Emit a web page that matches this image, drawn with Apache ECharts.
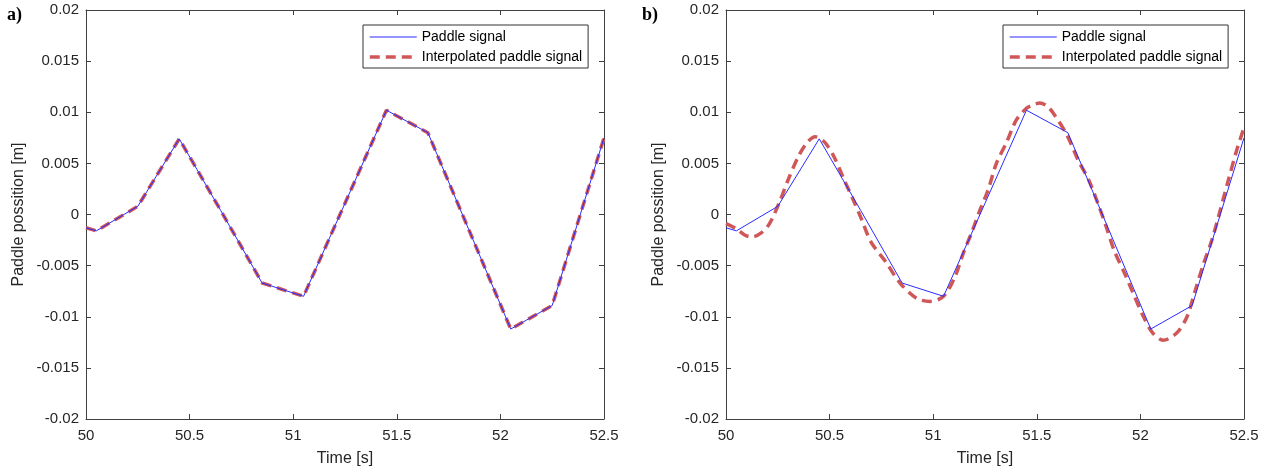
<!DOCTYPE html>
<html>
	<head>
		<meta charset="utf-8" />
		<title>Paddle signal</title>
		<style>
			html, body { margin: 0; padding: 0; background: #fff; }
			#chart { width: 1270px; height: 473px; }
		</style>
	</head>
	<body>
		<div id="chart"></div>
	</body>
	<script src="https://cdn.jsdelivr.net/npm/echarts@6/dist/echarts.min.js" type="text/javascript" charset="utf-8"></script>
	<script type="text/javascript">
		// paddle signal samples (time [s], position [m])
		var tSignal = [50, 50.05, 50.25, 50.45, 50.65, 50.85, 51.05, 51.25, 51.45, 51.65, 51.85, 52.05, 52.25, 52.5];
		var signal = [-0.0013, -0.0016, 0.0008, 0.0074, 0.0004, -0.0067, -0.0080, 0.0011, 0.0102, 0.0080, -0.0016, -0.0112, -0.0089, 0.0075];

		// a) linear interpolation - lies on top of the signal
		var tInterpA = [50, 50.05, 50.25, 50.45, 50.65, 50.85, 51.05, 51.25, 51.45, 51.65, 51.85, 52.05, 52.25, 52.5];
		var interpA = [-0.0013, -0.0016, 0.0008, 0.0074, 0.0004, -0.0067, -0.0080, 0.0011, 0.0102, 0.0080, -0.0016, -0.0112, -0.0089, 0.0075];

		// b) smooth interpolation
		var tInterpB = [50, 50.05, 50.09, 50.125, 50.17, 50.21, 50.26, 50.3, 50.35, 50.39, 50.43, 50.475, 50.52, 50.57, 50.615, 50.655, 50.7, 50.77, 50.84, 50.92, 50.985,
			51.05, 51.105, 51.145, 51.185, 51.225, 51.265, 51.305, 51.355, 51.4, 51.45, 51.48, 51.515, 51.55, 51.58, 51.645, 51.7, 51.75, 51.8, 51.835, 51.875, 51.925, 51.965,
			52.015, 52.06, 52.11, 52.175, 52.225, 52.265, 52.305, 52.345, 52.385, 52.425, 52.465, 52.5];
		var interpB = [-0.0009, -0.0014, -0.0020, -0.0022, -0.0018, -0.0009, 0.0013, 0.0034, 0.0057, 0.0070, 0.0076, 0.0071, 0.0057, 0.0034, 0.0014, -0.0005, -0.0027, -0.0046, -0.0067, -0.0082, -0.0085,
			-0.0080, -0.0061, -0.0038, -0.0018, 0.0004, 0.0024, 0.0050, 0.0071, 0.0092, 0.0104, 0.0107, 0.0109, 0.0106, 0.0099, 0.0078, 0.0053, 0.0034, 0.0008, -0.0012, -0.0036, -0.0058, -0.0077,
			-0.0100, -0.0116, -0.0123, -0.0116, -0.0100, -0.0074, -0.0048, -0.0025, 0.0004, 0.0034, 0.0063, 0.0085];

		var xTicks = [50, 50.5, 51, 51.5, 52, 52.5];
		var yTicks = [-0.02, -0.015, -0.01, -0.005, 0, 0.005, 0.01, 0.015, 0.02];

		function pairs(t, v){
			var out = [];
			for (var i = 0; i < t.length; i++) {
				out.push([t[i], v[i]]);
			}
			return out;
		}

		var font = "'Liberation Sans', Arial, sans-serif";
		var axisCol = '#404040';
		var textCol = '#262626';
		var blue = '#2a2aff';
		var red = '#cf5757';

		function xAx(grid, top){
			return {
				type: 'value', gridIndex: grid, position: top ? 'top' : 'bottom',
				min: xTicks[0], max: xTicks[xTicks.length - 1], interval: 0.5,
				name: top ? '' : 'Time [s]', nameLocation: 'middle', nameGap: 32,
				nameTextStyle: { fontFamily: font, fontSize: 16, color: textCol },
				axisLine: { show: true, onZero: false, lineStyle: { color: axisCol, width: 1 } },
				axisTick: { show: true, inside: true, length: 5, lineStyle: { color: axisCol } },
				axisLabel: { show: !top, margin: 9, fontFamily: font, fontSize: 15, color: textCol,
					formatter: function(v){ return String(parseFloat(v.toFixed(1))); } },
				splitLine: { show: false }
			};
		}
		function yAx(grid, right){
			return {
				type: 'value', gridIndex: grid, position: right ? 'right' : 'left',
				min: yTicks[0], max: yTicks[yTicks.length - 1], interval: 0.005,
				name: right ? '' : 'Paddle possition [m]', nameLocation: 'middle', nameGap: 59,
				nameTextStyle: { fontFamily: font, fontSize: 16, color: textCol },
				axisLine: { show: true, onZero: false, lineStyle: { color: axisCol, width: 1 } },
				axisTick: { show: true, inside: true, length: 5, lineStyle: { color: axisCol } },
				axisLabel: { show: !right, margin: 7, fontFamily: font, fontSize: 15, color: textCol,
					formatter: function(v){ return String(parseFloat(v.toFixed(3))); } },
				splitLine: { show: false }
			};
		}
		function legend(left){
			return {
				orient: 'vertical', left: left, top: 25,
				itemWidth: 47, itemHeight: 14, itemGap: 6,
				padding: [5, 6, 4, 5],
				backgroundColor: '#fff', borderColor: '#333', borderWidth: 1, borderRadius: 0,
				textStyle: { fontFamily: font, fontSize: 14, color: '#000' },
				itemStyle: { color: 'rgba(0,0,0,0)', borderWidth: 0 },
				data: [
					{ name: 'Paddle signal', lineStyle: { color: blue, width: 1 } },
					{ name: 'Interpolated paddle signal', lineStyle: { color: red, width: 3.5, type: [10, 6] } }
				]
			};
		}
		function sigSeries(x, y){
			return {
				name: 'Paddle signal', type: 'line', xAxisIndex: x, yAxisIndex: y,
				data: pairs(tSignal, signal), symbol: 'none', z: 3,
				lineStyle: { color: blue, width: 1 }, itemStyle: { color: blue }
			};
		}
		function intSeries(x, y, t, v, smooth){
			return {
				name: 'Interpolated paddle signal', type: 'line', xAxisIndex: x, yAxisIndex: y,
				data: pairs(t, v), symbol: 'none', smooth: smooth, z: 2,
				lineStyle: { color: red, width: 3.5, type: [10, 6] }, itemStyle: { color: red }
			};
		}

		var myChart = echarts.init(document.getElementById('chart'));
		var option = {
			animation: false,
			grid: [
				{ left: 86, right: 666, top: 10, bottom: 54 },
				{ left: 726, right: 26, top: 10, bottom: 54 }
			],
			xAxis: [xAx(0, false), xAx(0, true), xAx(1, false), xAx(1, true)],
			yAxis: [yAx(0, false), yAx(0, true), yAx(1, false), yAx(1, true)],
			legend: [legend(363), legend(1003)],
			graphic: [
				{ type: 'text', left: 7, top: 6, style: { text: 'a)', fontSize: 18, fontWeight: 'bold', fontFamily: "'Liberation Serif', serif", fill: '#000' } },
				{ type: 'text', left: 642, top: 6, style: { text: 'b)', fontSize: 18, fontWeight: 'bold', fontFamily: "'Liberation Serif', serif", fill: '#000' } }
			],
			series: [
				intSeries(0, 0, tInterpA, interpA, false),
				sigSeries(0, 0),
				intSeries(2, 2, tInterpB, interpB, 0.3),
				sigSeries(2, 2)
			]
		};
		myChart.setOption(option);
	</script>
</html>
